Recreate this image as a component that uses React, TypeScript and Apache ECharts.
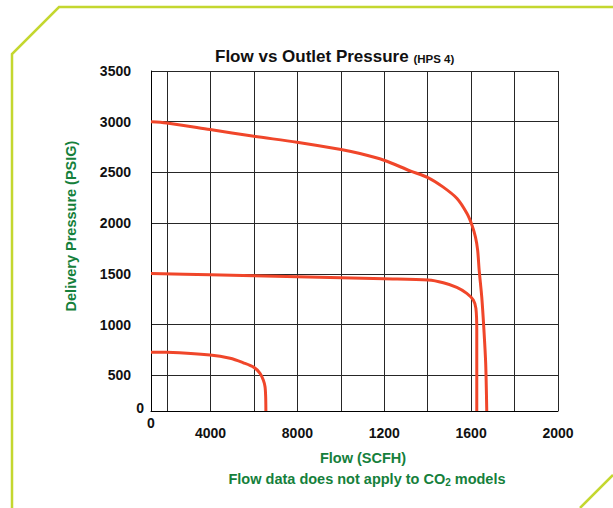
import React, { useEffect, useRef } from 'react';
import * as echarts from 'echarts';

// Axis extents (the plotted origin sits slightly inside the drawn corner)
const X_MIN = 126;
const X_MAX = 2000;
const Y_MIN = 150;
const Y_MAX = 3500;

// Grid line positions
const X_GRID = [200, 400, 600, 800, 1000, 1200, 1400, 1600, 1800, 2000];
const Y_GRID = [500, 1000, 1500, 2000, 2500, 3000, 3500];

// Tick labels (as printed on the chart)
const X_LABEL_VALUES = [126, 400, 800, 1200, 1600, 2000];
const X_LABEL_TEXTS = ['0', '4000', '8000', '1200', '1600', '2000'];
const Y_LABEL_VALUES = [150, 500, 1000, 1500, 2000, 2500, 3000, 3500];
const Y_LABEL_TEXTS = ['0', '500', '1000', '1500', '2000', '2500', '3000', '3500'];

// Curves: [flow, pressure]
const CURVE_3000 = [
  [126, 3000], [198, 2988], [398, 2923], [600, 2857], [798, 2798], [1001, 2726],
  [1088, 2687], [1199, 2621], [1319, 2516], [1401, 2450], [1470, 2358], [1535, 2244],
  [1581, 2096], [1604, 1981], [1620, 1863], [1630, 1735], [1637, 1538], [1649, 1272],
  [1659, 947], [1667, 622], [1672, 150],
];
const CURVE_1500 = [
  [126, 1505], [398, 1492], [600, 1482], [800, 1472], [1001, 1462], [1199, 1452],
  [1403, 1440], [1472, 1413], [1534, 1368], [1580, 1309], [1610, 1243], [1622, 1161],
  [1626, 947], [1626, 150],
];
const CURVE_750 = [
  [126, 730], [198, 728], [398, 701], [490, 669], [551, 625], [600, 580], [628, 521],
  [643, 455], [651, 389], [654, 291], [655, 150],
];

const TITLE_MAIN = 'Flow vs Outlet Pressure';
const TITLE_SUB = '(HPS 4)';
const X_NAME = 'Flow (SCFH)';
const Y_NAME = 'Delivery Pressure (PSIG)';
const NOTE = 'Flow data does not apply to CO{s|2} models';

const FONT = '"Liberation Sans", Arial, Helvetica, sans-serif';
const GREEN = '#15803b';
const RED = '#f0462a';
const FRAME = '#c4d72f';
const GRIDC = '#262626';

function labelFor(values: number[], texts: string[], v: number): string {
  for (let i = 0; i < values.length; i++) {
    if (Math.abs(values[i] - v) < 1e-6) return texts[i];
  }
  return '';
}

export default function App() {
  const ref = useRef<HTMLDivElement>(null);
  useEffect(() => {
    if (!ref.current) return;
    const chart = echarts.init(ref.current, null, { renderer: 'svg' });
    const lineSeries = (name: string, data: number[][]) => ({
      name,
      type: 'line',
      data,
      showSymbol: false,
      smooth: 0.3,
      lineStyle: { color: RED, width: 3 },
      itemStyle: { color: RED },
    });
    chart.setOption({
      animation: false,
      backgroundColor: '#ffffff',
      textStyle: { fontFamily: FONT },
      title: {
        text: `{a|${TITLE_MAIN} }{b|${TITLE_SUB}}`,
        left: 215,
        top: 48,
        padding: 0,
        textStyle: {
          rich: {
            a: { fontFamily: FONT, fontSize: 17, fontWeight: 'bold', color: '#111' },
            b: { fontFamily: FONT, fontSize: 11.5, fontWeight: 'bold', color: '#111', padding: [4, 0, 0, 0] },
          },
        },
      },
      grid: { left: 151, right: 55, top: 71, bottom: 97, containLabel: false },
      xAxis: {
        type: 'value',
        min: X_MIN,
        max: X_MAX,
        name: X_NAME,
        nameLocation: 'middle',
        nameGap: 39,
        nameTextStyle: {
          fontFamily: FONT, fontSize: 14.5, fontWeight: 'bold', color: GREEN, padding: [0, 0, 0, 17],
        },
        axisLine: { show: true, lineStyle: { color: '#000', width: 1 } },
        axisTick: { show: false, customValues: X_GRID },
        splitLine: { show: true, lineStyle: { color: GRIDC, width: 1 } },
        axisLabel: {
          customValues: X_LABEL_VALUES,
          margin: 5,
          formatter: (v: number) => {
            const t = labelFor(X_LABEL_VALUES, X_LABEL_TEXTS, v);
            return v === X_MIN ? `{z|${t}}` : `{n|${t}}`;
          },
          rich: {
            z: { fontFamily: FONT, fontSize: 14, fontWeight: 'bold', color: '#111' },
            n: { fontFamily: FONT, fontSize: 14, fontWeight: 'bold', color: '#111', padding: [10, 0, 0, 0] },
          },
        },
      },
      yAxis: {
        type: 'value',
        min: Y_MIN,
        max: Y_MAX,
        name: Y_NAME,
        nameLocation: 'middle',
        nameRotate: 90,
        nameGap: 73,
        nameTextStyle: {
          fontFamily: FONT, fontSize: 14.5, fontWeight: 'bold', color: GREEN, padding: [0, 0, 0, 30],
        },
        axisLine: { show: true, lineStyle: { color: '#000', width: 1 } },
        axisTick: { show: false, customValues: Y_GRID },
        splitLine: { show: true, lineStyle: { color: GRIDC, width: 1 } },
        axisLabel: {
          customValues: Y_LABEL_VALUES,
          margin: 7,
          formatter: (v: number) => {
            const t = labelFor(Y_LABEL_VALUES, Y_LABEL_TEXTS, v);
            return v === Y_MIN ? `{z|${t}}` : `{n|${t}}`;
          },
          rich: {
            z: { fontFamily: FONT, fontSize: 14, fontWeight: 'bold', color: '#111', padding: [0, 0, 6, 0] },
            n: { fontFamily: FONT, fontSize: 14, fontWeight: 'bold', color: '#111', padding: [0, 13, 0, 0] },
          },
        },
      },
      series: [
        lineSeries('3000 PSIG', CURVE_3000),
        lineSeries('1500 PSIG', CURVE_1500),
        lineSeries('750 PSIG', CURVE_750),
      ],
      graphic: [
        {
          type: 'polyline',
          silent: true,
          shape: { points: [[12, 508], [12, 54], [59, 7], [613, 7]] },
          style: { stroke: FRAME, lineWidth: 2.5, fill: null },
        },
        {
          type: 'line',
          silent: true,
          shape: { x1: 580, y1: 508, x2: 613, y2: 475 },
          style: { stroke: FRAME, lineWidth: 2.5 },
        },
        {
          type: 'text',
          x: 367,
          y: 479,
          silent: true,
          style: {
            text: NOTE,
            align: 'center',
            verticalAlign: 'middle',
            fontFamily: FONT,
            fontSize: 14.5,
            fontWeight: 'bold',
            fill: GREEN,
            rich: {
              s: { fontFamily: FONT, fontSize: 10, fontWeight: 'bold', fill: GREEN, padding: [7, 0, 0, 0] },
            },
          },
        },
      ],
    });
    return () => chart.dispose();
  }, []);
  return (
    <div
      ref={ref}
      style={{ position: 'fixed', left: 0, top: 0, width: 613, height: 508, background: '#fff' }}
    />
  );
}
